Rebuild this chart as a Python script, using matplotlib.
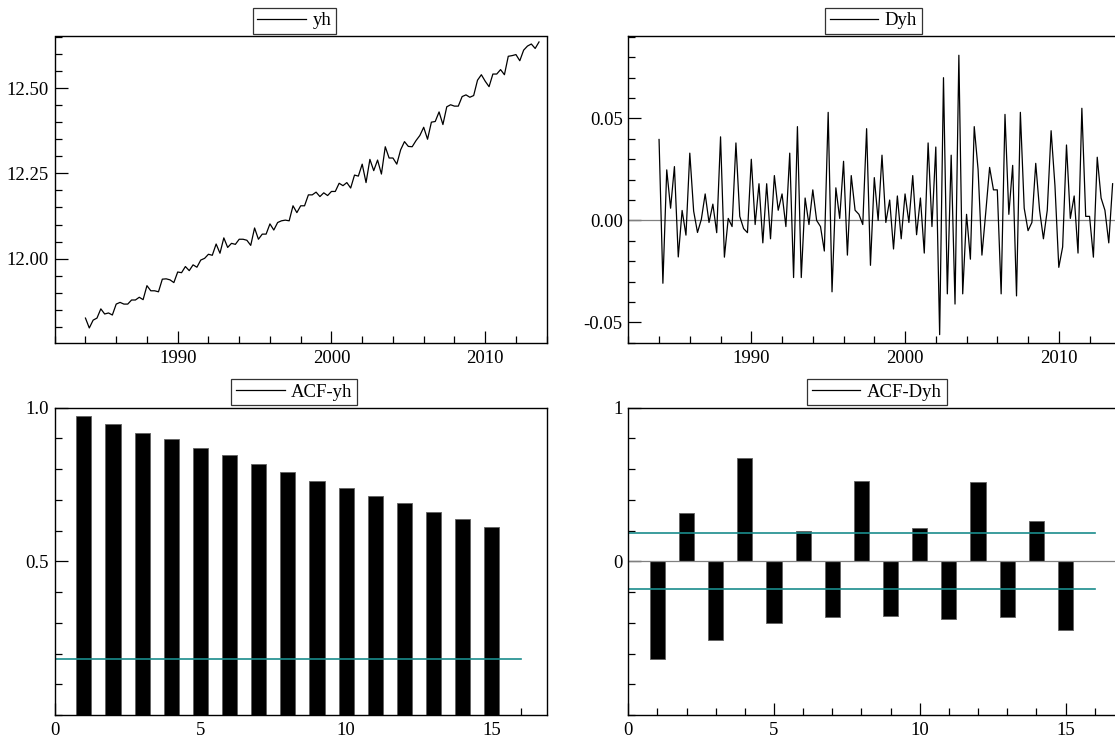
import numpy as np
import matplotlib.pyplot as plt
from matplotlib.ticker import FixedLocator, MultipleLocator, FuncFormatter

plt.rcParams['font.family'] = ['Liberation Serif', 'DejaVu Serif']
plt.rcParams['axes.unicode_minus'] = False

# quarterly sample 1984Q1 - 2013Q3
first_year = 1984.0

yh = [11.826, 11.797, 11.820, 11.826, 11.853, 11.838, 11.841, 11.835, 11.867, 11.872,
      11.867, 11.867, 11.879, 11.879, 11.887, 11.880, 11.921, 11.906, 11.906, 11.903,
      11.940, 11.941, 11.938, 11.930, 11.961, 11.959, 11.977, 11.965, 11.982, 11.975,
      11.996, 12.001, 12.013, 12.010, 12.043, 12.016, 12.061, 12.033, 12.045, 12.042,
      12.057, 12.057, 12.054, 12.039, 12.090, 12.057, 12.072, 12.072, 12.102, 12.084,
      12.106, 12.111, 12.113, 12.111, 12.155, 12.135, 12.155, 12.155, 12.187, 12.187,
      12.195, 12.182, 12.193, 12.185, 12.197, 12.197, 12.221, 12.214, 12.223, 12.207,
      12.245, 12.242, 12.277, 12.223, 12.291, 12.258, 12.289, 12.248, 12.328, 12.295,
      12.295, 12.277, 12.319, 12.343, 12.329, 12.328, 12.346, 12.361, 12.385, 12.350,
      12.400, 12.402, 12.430, 12.393, 12.445, 12.451, 12.447, 12.447, 12.475, 12.480,
      12.473, 12.478, 12.523, 12.539, 12.520, 12.504, 12.541, 12.541, 12.554, 12.539,
      12.593, 12.595, 12.598, 12.580, 12.611, 12.623, 12.629, 12.616, 12.635]

Dyh = [0.0397, -0.0308, 0.0248, 0.0060, 0.0264, -0.0179, 0.0049, -0.0072, 0.0330, 0.0046,
       -0.0059, 0.0005, 0.0130, -0.0010, 0.0080, -0.0060, 0.0410, -0.0180, 0.0010, -0.0030,
       0.0380, 0.0020, -0.0040, -0.0060, 0.0300, -0.0020, 0.0180, -0.0110, 0.0180, -0.0090,
       0.0220, 0.0050, 0.0130, -0.0030, 0.0330, -0.0280, 0.0460, -0.0280, 0.0110, -0.0020,
       0.0150, 0.0000, -0.0030, -0.0150, 0.0530, -0.0350, 0.0160, 0.0010, 0.0290, -0.0170,
       0.0220, 0.0050, 0.0030, -0.0020, 0.0450, -0.0220, 0.0210, 0.0000, 0.0320, -0.0010,
       0.0100, -0.0140, 0.0120, -0.0090, 0.0130, -0.0010, 0.0220, -0.0070, 0.0110, -0.0160,
       0.0380, -0.0030, 0.0360, -0.0560, 0.0700, -0.0360, 0.0320, -0.0410, 0.0810, -0.0360,
       0.0030, -0.0190, 0.0460, 0.0250, -0.0170, 0.0040, 0.0260, 0.0150, 0.0150, -0.0360,
       0.0520, 0.0030, 0.0270, -0.0370, 0.0530, 0.0060, -0.0050, -0.0010, 0.0280, 0.0050,
       -0.0090, 0.0050, 0.0440, 0.0170, -0.0230, -0.0130, 0.0370, 0.0010, 0.0120, -0.0160,
       0.0550, 0.0020, 0.0020, -0.0180, 0.0310, 0.0110, 0.0050, -0.0110, 0.0180]

lags = list(range(1, 16))
acf_yh = [0.972, 0.947, 0.919, 0.897, 0.868, 0.845, 0.817, 0.791, 0.762, 0.739,
          0.712, 0.689, 0.662, 0.638, 0.612]
acf_Dyh = [-0.638, 0.315, -0.511, 0.673, -0.401, 0.200, -0.362, 0.523, -0.353, 0.215,
           -0.377, 0.519, -0.362, 0.263, -0.444]
band = 0.183   # approx 2/sqrt(T)

dates = first_year + np.arange(len(yh)) / 4.0

W, H = 1115, 738
fig = plt.figure(figsize=(W / 100, H / 100), dpi=100)

def px_axes(x0, y0, x1, y1):
    # axes box given in pixels from the top-left corner
    return fig.add_axes([x0 / W, 1 - y1 / H, (x1 - x0) / W, (y1 - y0) / H])

ax1 = px_axes(54.7, 36.5, 546.7, 343)
ax2 = px_axes(628.3, 36.5, 1120.3, 343)
ax3 = px_axes(54.7, 407.7, 546.7, 715)
ax4 = px_axes(628.3, 407.7, 1120.3, 715)

def style(ax):
    for s in ax.spines.values():
        s.set_linewidth(1.0)
        s.set_color('black')
    ax.tick_params(which='both', direction='in', labelsize=13.5, width=0.9, color='black',
                   top=False, right=False)
    ax.tick_params(which='major', length=9)
    ax.tick_params(which='minor', length=5)
    ax.tick_params(axis='y', pad=4)
    ax.tick_params(axis='x', pad=5)

def legend(ax, label, xc):
    leg = ax.legend([plt.Line2D([], [], color='black', lw=0.9)], [label],
                    loc='lower center', bbox_to_anchor=(xc, 1.008), fontsize=13.5,
                    frameon=True, fancybox=False, handlelength=2.6, handletextpad=0.35,
                    borderpad=0.25, borderaxespad=0.0)
    leg.get_frame().set_edgecolor('black')
    leg.get_frame().set_linewidth(0.9)

fmt2 = FuncFormatter(lambda v, p: f'{v:.2f}')

# levels
ax1.plot(dates, yh, color='black', lw=0.9)
ax1.set_xlim(1982, 2014)
ax1.set_ylim(11.753, 12.651)
ax1.xaxis.set_major_locator(FixedLocator([1990, 2000, 2010]))
ax1.xaxis.set_minor_locator(MultipleLocator(2))
ax1.yaxis.set_major_locator(FixedLocator([12.00, 12.25, 12.50]))
ax1.yaxis.set_minor_locator(MultipleLocator(0.05))
ax1.yaxis.set_major_formatter(fmt2)
style(ax1)
legend(ax1, 'yh', 0.487)

# differences
ax2.axhline(0, color='#808080', lw=0.9)
ax2.plot(dates, Dyh, color='black', lw=0.9)
ax2.set_xlim(1982, 2014)
ax2.set_ylim(-0.0601, 0.0902)
ax2.xaxis.set_major_locator(FixedLocator([1990, 2000, 2010]))
ax2.xaxis.set_minor_locator(MultipleLocator(2))
ax2.yaxis.set_major_locator(FixedLocator([-0.05, 0.0, 0.05]))
ax2.yaxis.set_minor_locator(MultipleLocator(0.01))
ax2.yaxis.set_major_formatter(fmt2)
style(ax2)
legend(ax2, 'Dyh', 0.498)

# correlogram of levels
ax3.set_axisbelow(True)
ax3.bar(lags, acf_yh, width=0.52, color='black', edgecolor='#606060', lw=0.6)
ax3.plot([0, 16], [band, band], color='#1a8c8c', lw=1.2)
ax3.set_xlim(0, 16.88)
ax3.set_ylim(0, 1)
ax3.xaxis.set_major_locator(FixedLocator([0, 5, 10, 15]))
ax3.xaxis.set_minor_locator(MultipleLocator(1))
ax3.yaxis.set_major_locator(FixedLocator([0.5, 1.0]))
ax3.yaxis.set_minor_locator(MultipleLocator(0.1))
ax3.yaxis.set_major_formatter(FuncFormatter(lambda v, p: f'{v:.1f}'))
style(ax3)
legend(ax3, 'ACF-yh', 0.487)

# correlogram of differences
ax4.axhline(0, color='#808080', lw=0.9)
ax4.bar(lags, acf_Dyh, width=0.52, color='black', edgecolor='#606060', lw=0.6)
ax4.plot([0, 16], [band, band], color='#1a8c8c', lw=1.2)
ax4.plot([0, 16], [-band, -band], color='#1a8c8c', lw=1.2)
ax4.set_xlim(0, 16.88)
ax4.set_ylim(-1, 1)
ax4.xaxis.set_major_locator(FixedLocator([0, 5, 10, 15]))
ax4.xaxis.set_minor_locator(MultipleLocator(1))
ax4.yaxis.set_major_locator(FixedLocator([0, 1]))
ax4.yaxis.set_minor_locator(MultipleLocator(0.2))
ax4.yaxis.set_major_formatter(FuncFormatter(lambda v, p: f'{v:.0f}'))
style(ax4)
legend(ax4, 'ACF-Dyh', 0.505)

fig.savefig('out.png', dpi=100)
